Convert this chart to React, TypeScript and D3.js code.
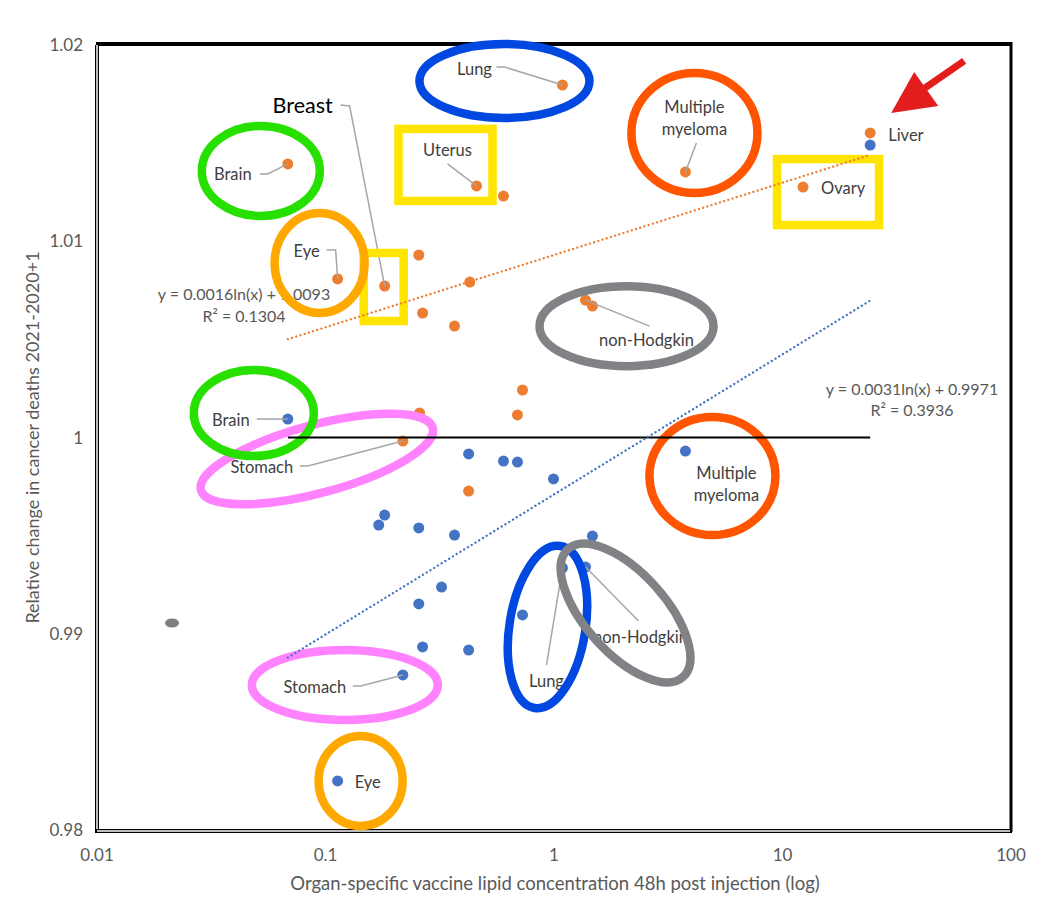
import React from 'react';
import * as d3 from 'd3';

// ---------- data ----------
const xTickValues = [0.01, 0.1, 1, 10, 100];
const xTickLabels = ['0.01', '0.1', '1', '10', '100'];
const yTickValues = [0.98, 0.99, 1, 1.01, 1.02];
const yTickLabels = ['0.98', '0.99', '1', '1.01', '1.02'];

// orange series (2021 relative change, group A)
const orangeX = [1.089, 3.76, 24.2, 12.3, 0.0684, 0.458, 0.601, 0.113, 0.1815, 0.256, 0.428, 0.266, 0.367, 1.374, 1.473, 0.728, 0.692, 0.258, 0.218, 0.423];
const orangeY = [1.01796, 1.01353, 1.01552, 1.01276, 1.01394, 1.01282, 1.0123, 1.00808, 1.00772, 1.0093, 1.00792, 1.00634, 1.00568, 1.007, 1.0067, 1.00242, 1.00115, 1.00125, 0.99982, 0.99727];
// blue series (group B)
const blueX = [0.0684, 0.423, 0.601, 0.692, 0.995, 3.76, 0.1815, 0.171, 0.256, 0.367, 1.473, 0.322, 0.256, 1.089, 1.374, 0.728, 0.266, 0.423, 0.218, 0.113, 24.2];
const blueY = [1.00094, 0.99916, 0.9988, 0.99875, 0.99789, 0.99931, 0.99605, 0.99554, 0.99539, 0.99503, 0.99498, 0.99238, 0.99152, 0.99335, 0.9934, 0.99096, 0.98933, 0.98917, 0.9879, 0.9825, 1.0149];
// stray grey marker
const grayX = [0.0213];
const grayY = [0.99055];

const orangeFit = { a: 0.0016, b: 1.0093, r2: '0.1304', xmin: 0.0684, xmax: 24.2 };
const blueFit = { a: 0.0031, b: 0.9971, r2: '0.3936', xmin: 0.0684, xmax: 24.2 };
const baseline = { y: 1, xmin: 0.0684, xmax: 24.2 };

// ---------- annotations (anchored to data points, offsets in px) ----------
type Shape = { kind: 'ellipse' | 'rect'; dx: number; dy: number; rx: number; ry: number; rot?: number; color: string };
type Ann = {
  s: 'o' | 'b'; i: number; lines: string[]; lx: number; ly: number; anchor?: string;
  leader?: number[][]; shape?: Shape; big?: boolean;
};
const GREEN = '#26e000', ORANGE = '#ffa800', BLUE = '#0048e0', RED = '#ff5500', GREY = '#808285', PINK = '#ff82ff', YELLOW = '#ffe500';

const annotations: Ann[] = [
  { s: 'o', i: 0, lines: ['Lung'], lx: -88, ly: -16, leader: [[-66, -18], [-58, -18]], shape: { kind: 'ellipse', dx: -58, dy: -4, rx: 85, ry: 37, color: BLUE } },
  { s: 'o', i: 1, lines: ['Multiple', 'myeloma'], lx: 9, ly: -65, leader: [[11, -29]], shape: { kind: 'ellipse', dx: 9, dy: -39, rx: 63, ry: 60, color: RED } },
  { s: 'o', i: 2, lines: ['Liver'], lx: 18, ly: 2, anchor: 'start' },
  { s: 'o', i: 3, lines: ['Ovary'], lx: 18, ly: 1, anchor: 'start', shape: { kind: 'rect', dx: 25, dy: 5, rx: 51, ry: 33, color: YELLOW } },
  { s: 'o', i: 4, lines: ['Brain'], lx: -55, ly: 10, leader: [[-28, 10], [-20, 10]], shape: { kind: 'ellipse', dx: -27, dy: 7, rx: 59, ry: 45, color: GREEN } },
  { s: 'o', i: 5, lines: ['Uterus'], lx: -29, ly: -36, leader: [[-29, -22]], shape: { kind: 'rect', dx: -31, dy: -21, rx: 47, ry: 36, color: YELLOW } },
  { s: 'o', i: 8, lines: ['Breast'], lx: -82, ly: -179, big: true, leader: [[-44, -181], [-35, -180]], shape: { kind: 'rect', dx: -1, dy: 1, rx: 20, ry: 34, color: YELLOW } },
  { s: 'o', i: 7, lines: ['Eye'], lx: -31, ly: -28, leader: [[-11, -29], [-2, -29]], shape: { kind: 'ellipse', dx: -18, dy: -16, rx: 45, ry: 50, color: ORANGE } },
  { s: 'o', i: 13, lines: ['non-Hodgkin'], lx: 61, ly: 40, leader: [[64, 26]], shape: { kind: 'ellipse', dx: 41, dy: 26, rx: 87, ry: 40, color: GREY } },
  { s: 'o', i: 18, lines: ['Stomach'], lx: -141, ly: 26, leader: [[-103, 25], [-95, 25]], shape: { kind: 'ellipse', dx: -86, dy: 18, rx: 120, ry: 34, rot: -15, color: PINK } },
  { s: 'b', i: 0, lines: ['Brain'], lx: -57, ly: 1, leader: [[-31, 0]], shape: { kind: 'ellipse', dx: -34, dy: -6, rx: 60, ry: 43, color: GREEN } },
  { s: 'b', i: 5, lines: ['Multiple', 'myeloma'], lx: 41, ly: 22, shape: { kind: 'ellipse', dx: 27, dy: 25, rx: 63, ry: 59, color: RED } },
  { s: 'b', i: 13, lines: ['Lung'], lx: -16, ly: 113, leader: [[-16, 97]], shape: { kind: 'ellipse', dx: -15, dy: 59, rx: 38, ry: 82, rot: 9, color: BLUE } },
  { s: 'b', i: 14, lines: ['non-Hodgkin'], lx: 55, ly: 70, leader: [[53, 54]], shape: { kind: 'ellipse', dx: 40, dy: 46, rx: 86, ry: 40, rot: 48, color: GREY } },
  { s: 'b', i: 18, lines: ['Stomach'], lx: -88, ly: 12, leader: [[-50, 11], [-42, 11]], shape: { kind: 'ellipse', dx: -58, dy: 10, rx: 93, ry: 35, color: PINK } },
  { s: 'b', i: 19, lines: ['Eye'], lx: 17, ly: 1, anchor: 'start', shape: { kind: 'ellipse', dx: 23, dy: 0, rx: 42, ry: 45, color: ORANGE } },
];

const W = 1052, H = 920;
const FONT = "Lato, 'Open Sans', sans-serif";

export default function App() {
  const x = d3.scaleLog().domain([0.01, 100]).range([97, 1011]);
  const y = d3.scaleLinear().domain([0.98, 1.02]).range([830, 45]);
  const [x0, x1] = x.range();
  const [yb, yt] = y.range();

  const pt = (s: 'o' | 'b', i: number): [number, number] =>
    s === 'o' ? [x(orangeX[i]), y(orangeY[i])] : [x(blueX[i]), y(blueY[i])];

  const fitPath = (f: { a: number; b: number; xmin: number; xmax: number }) => {
    const xs = d3.range(0, 101).map(k => Math.exp(Math.log(f.xmin) + (Math.log(f.xmax) - Math.log(f.xmin)) * k / 100));
    return d3.line<number>().x(v => x(v)).y(v => y(f.a * Math.log(v) + f.b))(xs) || '';
  };

  const liver = pt('o', 2);

  return (
    <svg width={W} height={H} style={{ position: 'absolute', left: 0, top: 0, background: '#fff' }} fontFamily={FONT}>
      <rect x={0} y={0} width={W} height={H} fill="#fff" />

      {/* frame */}
      <line x1={x0 - 1} y1={yt - 1} x2={x1 + 1} y2={yt - 1} stroke="#000" strokeWidth={4} />
      <line x1={x1} y1={yt - 3} x2={x1} y2={yb + 2} stroke="#000" strokeWidth={3} />
      <line x1={x0} y1={yt} x2={x0} y2={yb + 2} stroke="#000" strokeWidth={4} />
      <line x1={x0} y1={yt} x2={x0} y2={yb + 1} stroke="#bdbdbd" strokeWidth={2} />
      <line x1={x0 - 2} y1={yb + 1} x2={x1 + 1} y2={yb + 1} stroke="#000" strokeWidth={4} />
      <line x1={x0} y1={yb + 1} x2={x1 - 1} y2={yb + 1} stroke="#bdbdbd" strokeWidth={2} />

      {/* ticks */}
      {yTickValues.map((v, k) => (
        <text key={'y' + k} x={83} y={y(v) + 6} textAnchor="end" fontSize={17} fill="#595959">{yTickLabels[k]}</text>
      ))}
      {xTickValues.map((v, k) => (
        <text key={'x' + k} x={x(v)} y={861} textAnchor="middle" fontSize={17} fill="#595959">{xTickLabels[k]}</text>
      ))}
      <text x={(x0 + x1) / 2 + 1} y={890} textAnchor="middle" fontSize={18.5} fill="#595959">Organ-specific vaccine lipid concentration 48h post injection (log)</text>
      <text transform={`translate(39,${(yt + yb) / 2}) rotate(-90)`} textAnchor="middle" fontSize={18} fill="#595959">Relative change in cancer deaths 2021-2020+1</text>

      {/* points */}
      {grayX.map((v, k) => (
        <ellipse key={'g' + k} cx={x(v)} cy={y(grayY[k])} rx={7} ry={4.5} fill="#7f7f7f" />
      ))}
      {blueX.map((v, k) => (
        <circle key={'b' + k} cx={x(v)} cy={y(blueY[k])} r={5.5} fill="#4472c4" />
      ))}
      {orangeX.map((v, k) => (
        <circle key={'o' + k} cx={x(v)} cy={y(orangeY[k])} r={5.5} fill="#ed7d31" />
      ))}

      {/* trendline equations */}
      <text x={244} y={300} textAnchor="middle" fontSize={16} fill="#595959">{`y = ${orangeFit.a.toFixed(4)}ln(x) + ${orangeFit.b.toFixed(4)}`}</text>
      <text x={244} y={322} textAnchor="middle" fontSize={16} fill="#595959">R² = {orangeFit.r2}</text>
      <text x={912} y={395} textAnchor="middle" fontSize={16} fill="#595959">{`y = ${blueFit.a.toFixed(4)}ln(x) + ${blueFit.b.toFixed(4)}`}</text>
      <text x={912} y={416} textAnchor="middle" fontSize={16} fill="#595959">R² = {blueFit.r2}</text>

      {/* labels + leaders */}
      {annotations.map((a, k) => {
        const [px, py] = pt(a.s, a.i);
        const fs = a.big ? 21.5 : 16.5;
        return (
          <g key={'a' + k}>
            {a.leader && (
              <polyline
                points={[...a.leader.map(([dx, dy]) => `${px + dx},${py + dy}`), `${px},${py}`].join(' ')}
                fill="none" stroke="#a6a6a6" strokeWidth={1.5} />
            )}
            {a.lines.map((t, j) => (
              <text key={j} x={px + a.lx} y={py + a.ly + 6 + j * 22} textAnchor={a.anchor || 'middle'}
                fontSize={fs} fill={a.big ? '#000' : '#404040'}>{t}</text>
            ))}
          </g>
        );
      })}

      {/* highlight shapes */}
      {annotations.filter(a => a.shape).map((a, k) => {
        const [px, py] = pt(a.s, a.i);
        const sh = a.shape!;
        const cx = px + sh.dx, cy = py + sh.dy;
        return sh.kind === 'ellipse' ? (
          <ellipse key={'s' + k} cx={cx} cy={cy} rx={sh.rx} ry={sh.ry} fill="none" stroke={sh.color} strokeWidth={8.5}
            transform={sh.rot ? `rotate(${sh.rot},${cx},${cy})` : undefined} />
        ) : (
          <rect key={'s' + k} x={cx - sh.rx} y={cy - sh.ry} width={sh.rx * 2} height={sh.ry * 2} fill="none" stroke={sh.color} strokeWidth={8.5} />
        );
      })}

      {/* baseline y = 1 */}
      <line x1={x(baseline.xmin)} x2={x(baseline.xmax)} y1={y(baseline.y)} y2={y(baseline.y)} stroke="#000" strokeWidth={2} />

      {/* trendlines */}
      <path d={fitPath(orangeFit)} fill="none" stroke="#ed7d31" strokeWidth={2.3} strokeDasharray="0.1 4.3" strokeLinecap="round" />
      <path d={fitPath(blueFit)} fill="none" stroke="#4472c4" strokeWidth={2.3} strokeDasharray="0.1 4.3" strokeLinecap="round" />

      {/* red arrow pointing to liver */}
      <line x1={liver[0] + 94} y1={liver[1] - 72} x2={liver[0] + 52} y2={liver[1] - 43} stroke="#e31c1c" strokeWidth={7} />
      <polygon points={`${liver[0] + 21},${liver[1] - 20} ${liver[0] + 44},${liver[1] - 61} ${liver[0] + 68},${liver[1] - 27}`} fill="#e31c1c" />
    </svg>
  );
}
